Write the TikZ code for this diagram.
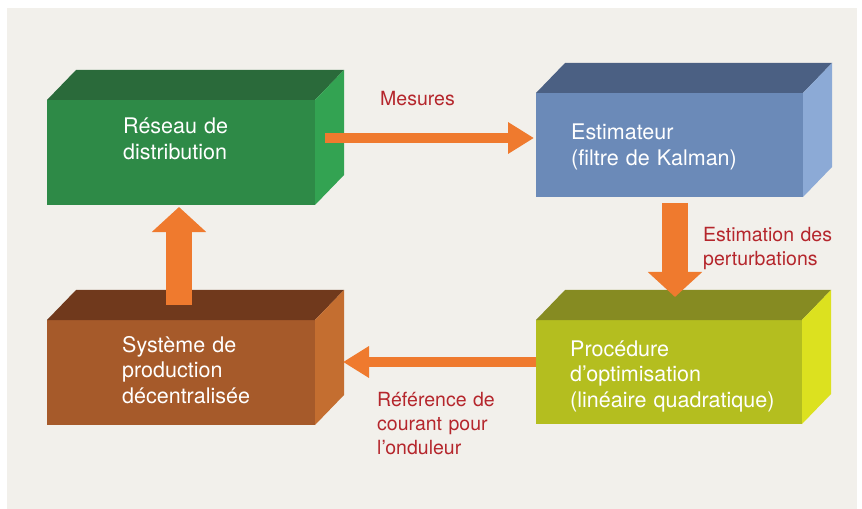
\documentclass[tikz,border=0pt]{standalone}
\usepackage{fontspec}
\setmainfont{TeX Gyre Heros}
\usetikzlibrary{arrows.meta,calc}
\definecolor{cream}{HTML}{F2F0EB}
\definecolor{gfront}{HTML}{2E8A47}
\definecolor{gtop}{HTML}{2A6A3A}
\definecolor{gside}{HTML}{33A352}
\definecolor{bfront}{HTML}{6B8AB8}
\definecolor{btop}{HTML}{4B6083}
\definecolor{bside}{HTML}{8CAAD6}
\definecolor{rfront}{HTML}{A65A2A}
\definecolor{rtop}{HTML}{70391C}
\definecolor{rside}{HTML}{C46E30}
\definecolor{yfront}{HTML}{B4BE1F}
\definecolor{ytop}{HTML}{868B22}
\definecolor{yside}{HTML}{DCE11F}
\definecolor{arrorange}{HTML}{EF7A2E}
\definecolor{lblred}{HTML}{B5262C}
\newcommand\mycubefaces[3]{%
  \fill[#2] (#1.north west) -- ++(29,-30) -- ($(#1.north east)+(29,-30)$) -- (#1.north east) -- cycle;
  \fill[#3] (#1.north east) -- ++(29,-30) -- ($(#1.south east)+(29,-30)$) -- (#1.south east) -- cycle;
}
\tikzset{
  front/.style={inner sep=0pt, outer sep=0pt, anchor=north west, minimum width=268bp, minimum height=105bp},
  boxtext/.style={text=white, anchor=base west, inner sep=0pt, align=left, text width=260bp,
    font=\fontsize{21.5bp}{25.5bp}\selectfont},
  lbl/.style={text=lblred, anchor=base west, inner sep=0pt, align=left, text width=200bp,
    font=\fontsize{19.5bp}{24bp}\selectfont},
  thinarrow/.style={draw=arrorange, line width=10bp, -{Triangle[length=26bp,width=30bp]}},
  fatarrow/.style={draw=arrorange, line width=26bp, -{Triangle[length=25bp,width=53bp]}},
}
\begin{document}
\begin{tikzpicture}[x=1bp,y=-1bp]
\useasboundingbox (0,0) rectangle (862,509);
\fill[white] (0,0) rectangle (862,509);
\fill[cream] (7,8) rectangle (857,509);
% boxes
\node[front, fill=gfront] (green) at (47,100) {};
\mycubefaces{green}{gtop}{gside}
\node[front, fill=bfront, minimum width=267bp, minimum height=104bp] (blue) at (536,93) {};
\mycubefaces{blue}{btop}{bside}
\node[front, fill=rfront] (brown) at (47,320) {};
\mycubefaces{brown}{rtop}{rside}
\node[front, fill=yfront, minimum width=266bp, minimum height=104bp] (yellow) at (536,320) {};
\mycubefaces{yellow}{ytop}{yside}
% arrows
\coordinate (mstart) at (325,138);
\draw[thinarrow] (mstart) -- ($(blue.west |- mstart)+(-2,0)$);
\coordinate (ustart) at (179,305);
\draw[fatarrow] (ustart) -- ($(green.south -| ustart)+(0,2)$);
\coordinate (dend) at (675,297);
\draw[fatarrow] ($(blue.south -| dend)+(0,6)$) -- (dend);
\coordinate (lend) at (343,362);
\draw[thinarrow] (yellow.west |- lend) -- (lend);
% box texts
\node[boxtext] (tgreen) at (123,134) {Réseau de\\distribution};
\node[boxtext] (tblue) at (571,140) {Estimateur\\(filtre de Kalman)};
\node[boxtext] (tbrown) at (122,352) {Système de\\production\\décentralisée};
\node[boxtext] (tyellow) at (570,356) {Procédure\\d’optimisation\\(linéaire quadratique)};
% labels
\node[lbl] (lmes) at (380,106) {Mesures};
\node[lbl] (lest) at (703,242) {Estimation des\\perturbations};
\node[lbl] (lref) at (377,406) {Référence de\\courant pour\\l’onduleur};
\end{tikzpicture}
\end{document}
